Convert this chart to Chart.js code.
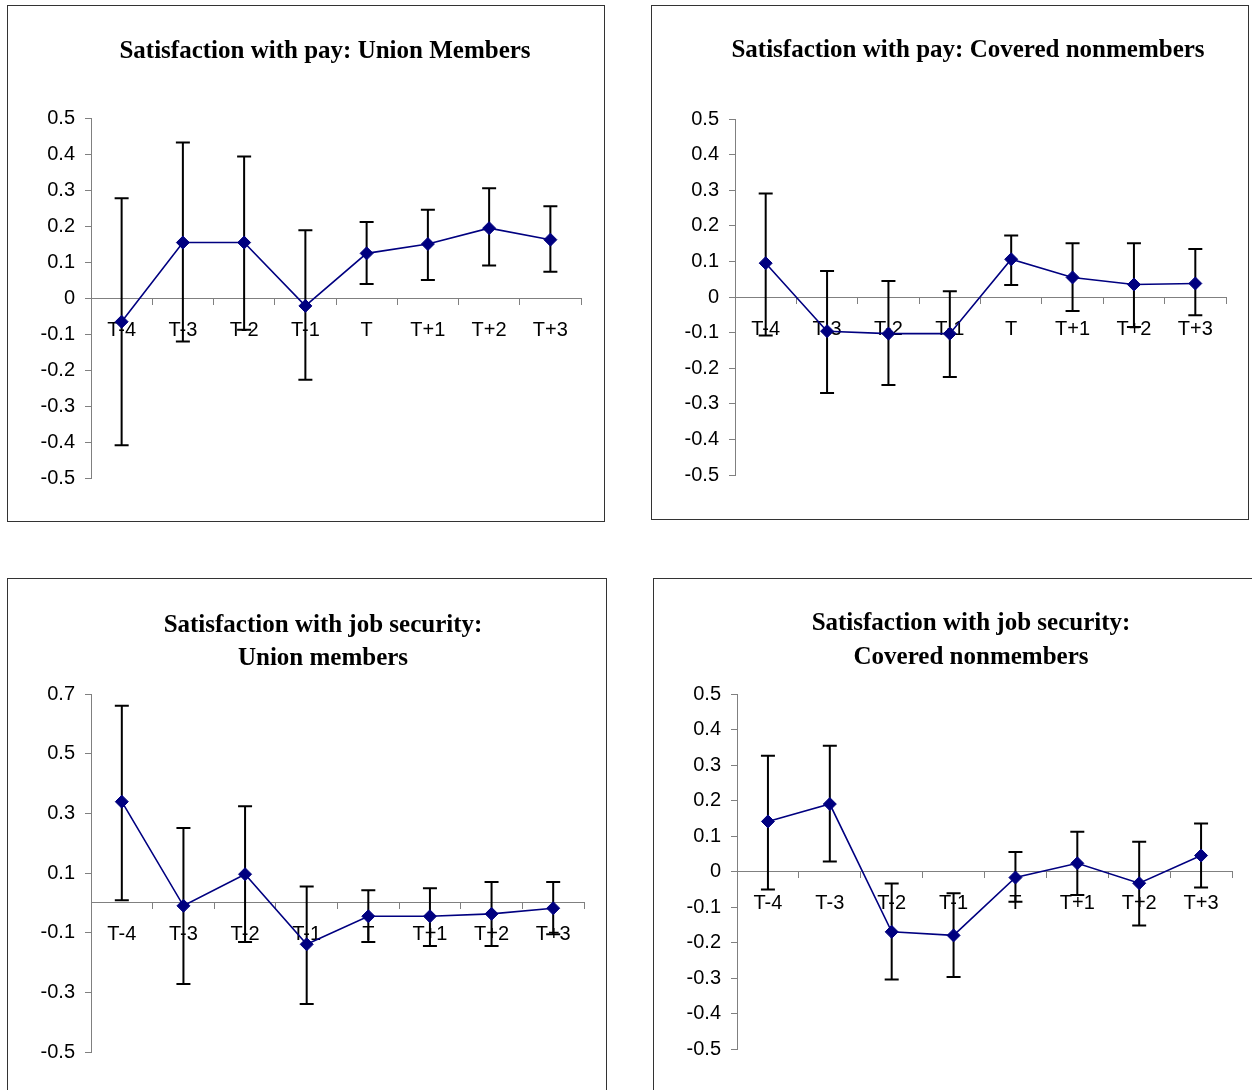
<!DOCTYPE html>
<html>
<head>
<meta charset="utf-8">
<script src="https://cdn.jsdelivr.net/npm/chart.js@4.4.1/dist/chart.umd.min.js"></script>
<style>
html, body { margin: 0; padding: 0; background: #fff; overflow: hidden; }
.panel { position: absolute; border: 1px solid #333; box-sizing: border-box; background: #fff; }
.panel canvas { position: absolute; left: 0; top: 0; }
</style>
</head>
<body>
<div class="panel" id="p1" style="left:7px;top:5px;width:598px;height:517px"><canvas id="c1"></canvas></div>
<div class="panel" id="p2" style="left:651px;top:5px;width:598px;height:515px"><canvas id="c2"></canvas></div>
<div class="panel" id="p3" style="left:7px;top:578px;width:600px;height:522px"><canvas id="c3"></canvas></div>
<div class="panel" id="p4" style="left:653px;top:578px;width:610px;height:522px"><canvas id="c4"></canvas></div>

<script>
const periods = ['T-4', 'T-3', 'T-2', 'T-1', 'T', 'T+1', 'T+2', 'T+3'];

// Satisfaction with pay: union members
const payUnion     = [-0.066, 0.154, 0.154, -0.022, 0.124, 0.150, 0.194, 0.162];
const payUnionLow  = [-0.409, -0.121, -0.088, -0.227, 0.039, 0.050, 0.090, 0.073];
const payUnionHigh = [0.277, 0.432, 0.393, 0.188, 0.211, 0.245, 0.305, 0.255];

// Satisfaction with pay: covered nonmembers
const payCovered     = [0.095, -0.096, -0.103, -0.103, 0.106, 0.055, 0.035, 0.038];
const payCoveredLow  = [-0.108, -0.270, -0.247, -0.225, 0.034, -0.039, -0.084, -0.051];
const payCoveredHigh = [0.291, 0.073, 0.045, 0.016, 0.173, 0.151, 0.151, 0.135];

// Satisfaction with job security: union members
const jobUnion     = [0.339, -0.010, 0.096, -0.139, -0.045, -0.045, -0.037, -0.018];
const jobUnionLow  = [0.009, -0.272, -0.131, -0.339, -0.131, -0.145, -0.145, -0.105];
const jobUnionHigh = [0.661, 0.251, 0.324, 0.055, 0.042, 0.049, 0.070, 0.070];

// Satisfaction with job security: covered nonmembers
const jobCovered     = [0.141, 0.190, -0.170, -0.180, -0.017, 0.023, -0.033, 0.045];
const jobCoveredLow  = [-0.051, 0.028, -0.304, -0.297, -0.085, -0.066, -0.152, -0.045];
const jobCoveredHigh = [0.326, 0.354, -0.034, -0.061, 0.055, 0.112, 0.084, 0.135];


// draws the whiskers for every point, straight from the scales
const errorBars = {
    id: 'errorBars',
    afterLayout(chart) {
        // narrow y axis box is only there to center the title, don't clip its labels
        chart.scales.y.left = 0;
    },
    beforeDatasetsDraw(chart) {
        const ctx = chart.ctx;
        const x = chart.scales.x;
        const y = chart.scales.y;
        const ds = chart.config.data.datasets[0];
        ctx.save();
        ctx.strokeStyle = '#000';
        ctx.lineWidth = 2;
        ds.errLow.forEach((lo, i) => {
            const px = x.getPixelForValue(i);
            const y1 = y.getPixelForValue(lo);
            const y2 = y.getPixelForValue(ds.errHigh[i]);
            ctx.beginPath();
            ctx.moveTo(px, y1); ctx.lineTo(px, y2);
            ctx.moveTo(px - 7, y1); ctx.lineTo(px + 7, y1);
            ctx.moveTo(px - 7, y2); ctx.lineTo(px + 7, y2);
            ctx.stroke();
        });
        ctx.restore();
    }
};


function makeChart(id, panelId, title, values, low, high, yMin, yMax, step, lay) {
    const panel = document.getElementById(panelId);
    const canvas = document.getElementById(id);
    canvas.width = panel.clientWidth;
    canvas.height = panel.clientHeight;

    const tickFont = { family: 'Liberation Sans', size: 20 };

    return new Chart(canvas.getContext('2d'), {
        type: 'line',
        data: {
            labels: periods,
            datasets: [{
                data: values,
                errLow: low,
                errHigh: high,
                borderColor: '#000080',
                borderWidth: 1.6,
                pointStyle: 'rectRot',
                pointRadius: 6.5,
                pointBackgroundColor: '#000080',
                pointBorderColor: '#000080',
                pointBorderWidth: 1,
                tension: 0
            }]
        },
        options: {
            responsive: false,
            animation: false,
            layout: { padding: { left: lay.L, right: lay.R, top: 0, bottom: lay.B } },
            plugins: {
                legend: { display: false },
                tooltip: { enabled: false },
                title: {
                    display: true,
                    text: title,
                    color: '#000',
                    font: { family: 'Liberation Serif', size: 25, weight: 'bold', lineHeight: lay.lh },
                    padding: { top: lay.pt, bottom: lay.pb }
                }
            },
            scales: {
                x: {
                    type: 'category',
                    position: { y: 0 },
                    offset: true,
                    ticks: { color: '#000', font: tickFont, padding: 14, maxRotation: 0, autoSkip: false },
                    grid: { offset: true, drawOnChartArea: false, color: '#808080', tickLength: 6 },
                    border: { color: '#808080', width: 1 }
                },
                y: {
                    min: yMin,
                    max: yMax,
                    ticks: {
                        stepSize: step,
                        color: '#000',
                        font: tickFont,
                        padding: 10,
                        callback: v => String(Number(v.toFixed(1)))
                    },
                    grid: { drawOnChartArea: false, color: '#808080', tickLength: 6 },
                    border: { color: '#808080', width: 1 },
                    afterFit(scale) { scale.width = lay.axisW; }
                }
            }
        },
        plugins: [errorBars]
    });
}


document.addEventListener('DOMContentLoaded', function() {
    makeChart('c1', 'p1', 'Satisfaction with pay: Union Members',
        payUnion, payUnionLow, payUnionHigh, -0.5, 0.5, 0.1,
        { L: 61, R: 23, B: 43, pt: 31, pb: 51, lh: 1.2, axisW: 22 });

    makeChart('c2', 'p2', 'Satisfaction with pay: Covered nonmembers',
        payCovered, payCoveredLow, payCoveredHigh, -0.5, 0.5, 0.1,
        { L: 58, R: 22, B: 44, pt: 30, pb: 53, lh: 1.2, axisW: 25 });

    makeChart('c3', 'p3', ['Satisfaction with job security:', 'Union members'],
        jobUnion, jobUnionLow, jobUnionHigh, -0.5, 0.7, 0.2,
        { L: 54, R: 22, B: 47, pt: 30.5, pb: 18.5, lh: 1.32, axisW: 29 });

    makeChart('c4', 'p4', ['Satisfaction with job security:', 'Covered nonmembers'],
        jobCovered, jobCoveredLow, jobCoveredHigh, -0.5, 0.5, 0.1,
        { L: 56, R: 30, B: 50, pt: 28, pb: 19, lh: 1.36, axisW: 27 });
});
</script>
</body>
</html>
